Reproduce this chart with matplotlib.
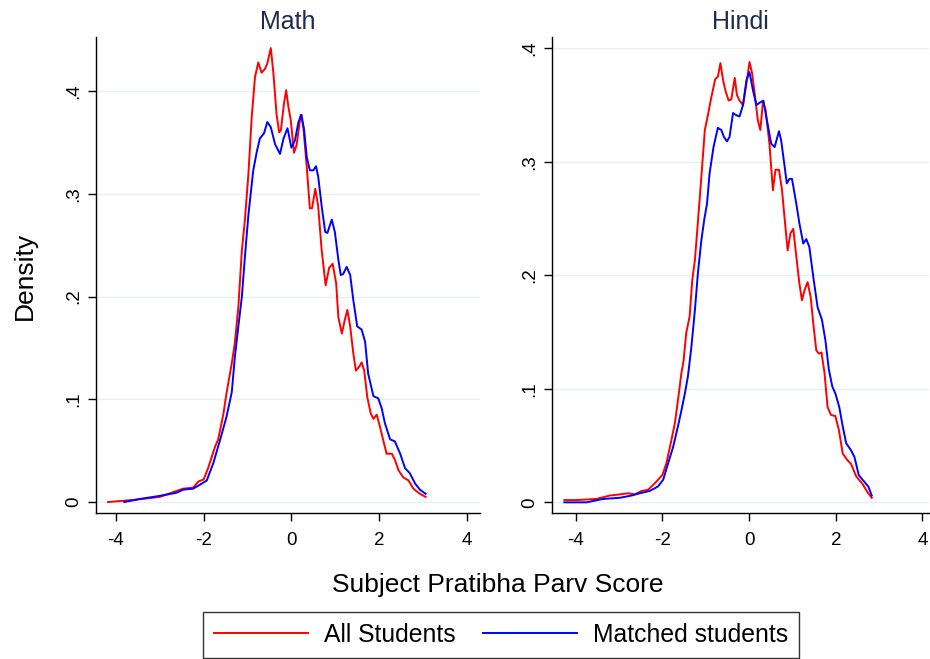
import matplotlib
matplotlib.use("Agg")
import matplotlib.pyplot as plt

plt.rcParams['font.family'] = ['Liberation Sans', 'DejaVu Sans']

# ---------------- data ----------------
math_all_x = [-4.18, -3.6, -3.0, -2.47, -2.24, -2.12, -2.0, -1.9, -1.74, -1.67, -1.55, -1.48, -1.36, -1.29,
              -1.21, -1.13, -1.06, -0.98, -0.905, -0.83, -0.755, -0.68, -0.60, -0.55, -0.47, -0.41, -0.34,
              -0.28, -0.24, -0.17, -0.12, -0.07, -0.016, 0.06, 0.12, 0.21, 0.27, 0.35, 0.42, 0.47, 0.545,
              0.61, 0.69, 0.78, 0.86, 0.94, 1.02, 1.07, 1.15, 1.21, 1.275, 1.34, 1.41, 1.47, 1.55, 1.60,
              1.66, 1.73, 1.81, 1.87, 1.945, 2.02, 2.10, 2.17, 2.29, 2.36, 2.44, 2.55, 2.67, 2.78, 2.93, 3.06]
math_all_y = [0.000, 0.002, 0.005, 0.013, 0.014, 0.020, 0.022, 0.033, 0.054, 0.061, 0.086, 0.106, 0.135, 0.155,
              0.190, 0.245, 0.275, 0.320, 0.375, 0.414, 0.428, 0.418, 0.422, 0.427, 0.442, 0.417, 0.378,
              0.360, 0.362, 0.388, 0.401, 0.385, 0.372, 0.340, 0.348, 0.377, 0.366, 0.326, 0.286, 0.286, 0.305,
              0.288, 0.245, 0.211, 0.228, 0.232, 0.213, 0.180, 0.164, 0.176, 0.187, 0.171, 0.145, 0.128, 0.132, 0.136,
              0.128, 0.102, 0.086, 0.081, 0.085, 0.073, 0.059, 0.047, 0.047, 0.041, 0.031, 0.024, 0.021, 0.013, 0.008, 0.005]

math_match_x = [-3.81, -3.45, -3.0, -2.62, -2.47, -2.24, -2.08, -1.93, -1.78, -1.63, -1.48, -1.36, -1.29, -1.21,
                -1.13, -1.06, -0.98, -0.87, -0.79, -0.72, -0.625, -0.55, -0.47, -0.37, -0.26, -0.18, -0.09, 0.0,
                0.08, 0.16, 0.23, 0.29, 0.35, 0.42, 0.50, 0.56, 0.61, 0.69, 0.77, 0.82, 0.92, 0.99, 1.07, 1.125,
                1.18, 1.26, 1.34, 1.41, 1.50, 1.60, 1.68, 1.75, 1.87, 1.98, 2.06, 2.13, 2.25, 2.36, 2.48, 2.59,
                2.70, 2.82, 2.93, 3.06]
math_match_y = [0.000, 0.003, 0.006, 0.009, 0.012, 0.013, 0.017, 0.021, 0.038, 0.060, 0.083, 0.107, 0.141, 0.171,
                0.200, 0.239, 0.280, 0.323, 0.341, 0.354, 0.359, 0.370, 0.365, 0.348, 0.339, 0.354, 0.364, 0.345,
                0.352, 0.370, 0.377, 0.362, 0.336, 0.323, 0.323, 0.327, 0.317, 0.288, 0.263, 0.262, 0.275, 0.263, 0.236, 0.221,
                0.222, 0.229, 0.221, 0.197, 0.171, 0.168, 0.156, 0.125, 0.103, 0.101, 0.091, 0.077, 0.061, 0.059, 0.047, 0.033,
                0.028, 0.018, 0.012, 0.008]

hindi_all_x = [-4.26, -3.98, -3.52, -3.21, -2.98, -2.79, -2.64, -2.48, -2.33, -2.17, -2.0, -1.91, -1.79, -1.71,
               -1.64, -1.56, -1.51, -1.45, -1.37, -1.31, -1.25, -1.19, -1.10, -1.02, -0.95, -0.87, -0.78, -0.72,
               -0.66, -0.60, -0.54, -0.47, -0.41, -0.33, -0.28, -0.22, -0.14, -0.06, 0.01, 0.07, 0.14, 0.20, 0.26,
               0.32, 0.38, 0.47, 0.55, 0.61, 0.69, 0.76, 0.82, 0.89, 0.955, 1.02, 1.10, 1.16, 1.22, 1.28, 1.35,
               1.42, 1.48, 1.55, 1.61, 1.67, 1.74, 1.81, 1.89, 1.99, 2.07, 2.16, 2.27, 2.35, 2.47, 2.62, 2.73, 2.83]
hindi_all_y = [0.002, 0.002, 0.003, 0.006, 0.007, 0.008, 0.007, 0.010, 0.011, 0.017, 0.024, 0.034, 0.055, 0.070,
               0.090, 0.114, 0.125, 0.149, 0.164, 0.196, 0.213, 0.242, 0.287, 0.328, 0.341, 0.357, 0.373, 0.375,
               0.387, 0.372, 0.362, 0.354, 0.355, 0.374, 0.359, 0.354, 0.350, 0.369, 0.388, 0.378, 0.357, 0.337, 0.328,
               0.353, 0.346, 0.316, 0.275, 0.293, 0.293, 0.275, 0.250, 0.222, 0.237, 0.241, 0.213, 0.193, 0.178, 0.187, 0.194,
               0.181, 0.158, 0.134, 0.131, 0.132, 0.114, 0.084, 0.077, 0.076, 0.064, 0.043, 0.037, 0.034, 0.023, 0.016, 0.009, 0.004]

hindi_match_x = [-4.26, -3.75, -3.36, -2.98, -2.71, -2.52, -2.29, -2.10, -1.98, -1.87, -1.75, -1.64, -1.56, -1.48,
                 -1.41, -1.33, -1.25, -1.18, -1.10, -1.03, -0.97, -0.91, -0.82, -0.72, -0.64, -0.58, -0.51, -0.45,
                 -0.37, -0.29, -0.22, -0.14, -0.06, 0.01, 0.09, 0.17, 0.24, 0.33, 0.41, 0.51, 0.59, 0.69, 0.74,
                 0.82, 0.87, 0.93, 0.99, 1.09, 1.16, 1.25, 1.32, 1.39, 1.48, 1.58, 1.68, 1.76, 1.84, 1.92, 1.99,
                 2.08, 2.16, 2.24, 2.35, 2.43, 2.53, 2.66, 2.75, 2.83]
hindi_match_y = [0.000, 0.000, 0.003, 0.004, 0.006, 0.008, 0.010, 0.014, 0.020, 0.034, 0.049, 0.067, 0.081, 0.096,
                 0.111, 0.137, 0.169, 0.202, 0.231, 0.250, 0.263, 0.290, 0.313, 0.330, 0.328, 0.322, 0.318, 0.322,
                 0.343, 0.341, 0.340, 0.350, 0.372, 0.379, 0.363, 0.350, 0.352, 0.354, 0.337, 0.316, 0.313, 0.327, 0.319,
                 0.296, 0.281, 0.285, 0.285, 0.263, 0.246, 0.228, 0.232, 0.225, 0.199, 0.172, 0.161, 0.143, 0.117, 0.102, 0.096,
                 0.084, 0.067, 0.052, 0.046, 0.040, 0.024, 0.018, 0.014, 0.006]

panel_titles = ["Math", "Hindi"]
series_labels = ["All Students", "Matched students"]
x_ticks = [-4, -2, 0, 2, 4]
x_ticklabels = ["-4", "-2", "0", "2", "4"]
math_yticks = [0, 0.1, 0.2, 0.3, 0.4]
hindi_yticks = [0, 0.1, 0.2, 0.3, 0.4]
y_ticklabels = ["0", ".1", ".2", ".3", ".4"]

# ---------------- figure ----------------
W, H = 930, 659
fig = plt.figure(figsize=(W / 100, H / 100), dpi=100)
fig.patch.set_facecolor("white")

def ax_rect(l, r, t, b):
    return [l / W, 1 - b / H, (r - l) / W, (b - t) / H]

ax1 = fig.add_axes(ax_rect(96, 480, 37, 513))
ax2 = fig.add_axes(ax_rect(552, 929, 37, 513))

RED = "#FF0000"
BLUE = "#0000FF"
TITLE_C = "#1E2B50"
GRID_C = "#E8EFF2"

panels = [
    (ax1, math_all_x, math_all_y, math_match_x, math_match_y, math_yticks, (-4.456, 4.30), (-0.0107, 0.4528)),
    (ax2, hindi_all_x, hindi_all_y, hindi_match_x, hindi_match_y, hindi_yticks, (-4.545, 4.15), (-0.0094, 0.410)),
]

lines = []
for i, (ax, ax_x, ax_y, mx, my, yt, xl, yl) in enumerate(panels):
    l1, = ax.plot(ax_x, ax_y, color=RED, lw=1.4, label=series_labels[0], zorder=3)
    l2, = ax.plot(mx, my, color=BLUE, lw=1.4, label=series_labels[1], zorder=3)
    if i == 0:
        lines = [l1, l2]
    ax.set_xlim(*xl)
    ax.set_ylim(*yl)
    ax.set_xticks(x_ticks)
    ax.set_xticklabels(x_ticklabels)
    ax.set_yticks(yt)
    ax.set_yticklabels(y_ticklabels, rotation=90, va="center")
    ax.grid(axis="y", color=GRID_C, lw=1.0)
    ax.set_axisbelow(True)
    for s in ["top", "right"]:
        ax.spines[s].set_visible(False)
    for s in ["left", "bottom"]:
        ax.spines[s].set_color("#000000")
        ax.spines[s].set_linewidth(1.0)
    ax.tick_params(axis="both", direction="out", length=6, width=1.0, color="#000000",
                   labelsize=13.5, labelcolor="#000000")
    ax.tick_params(axis="x", pad=8)
    ax.tick_params(axis="y", pad=4)
    ax.set_title(panel_titles[i], fontsize=18, color=TITLE_C, pad=6)

fig.text(25 / W, 1 - 276 / H, "Density", rotation=90, fontsize=19, ha="center", va="center", color="#000000")
fig.text(498 / W, 1 - 585 / H, "Subject Pratibha Parv Score", fontsize=19, ha="center", va="center", color="#000000")

leg = fig.legend(lines, series_labels, loc="center", bbox_to_anchor=(501 / W, 1 - 635 / H),
                 ncol=2, fontsize=17.8, frameon=True, fancybox=False, handlelength=3.8,
                 handletextpad=0.65, columnspacing=1.1, borderpad=0.45, borderaxespad=0)
leg.get_frame().set_edgecolor("#000000")
leg.get_frame().set_linewidth(1.0)

fig.savefig("out.png", dpi=100, facecolor="white")
